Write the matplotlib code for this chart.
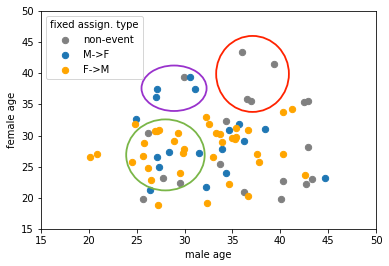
import numpy as np
import matplotlib
matplotlib.use('Agg')
import matplotlib.pyplot as plt
from matplotlib.patches import Ellipse

# male age, female age per couple
nonevent_x = [29.9, 35.97, 39.3, 36.5, 36.9, 42.47, 42.9, 34.3, 33.67, 36.2,
              40.06, 40.27, 42.9, 43.3, 42.7, 26.13, 27.7, 29.48, 25.7]
nonevent_y = [39.4, 43.4, 41.45, 35.8, 35.6, 35.35, 35.5, 32.3, 25.44, 20.9,
              19.8, 22.66, 28.1, 23.0, 22.3, 30.47, 23.15, 22.44, 19.8]

mf_x = [27.07, 26.97, 30.53, 31.05, 24.95, 27.07, 27.28, 28.33, 31.5, 26.34,
        34.6, 35.66, 36.2, 38.4, 33.9, 34.3, 32.2, 44.67]
mf_y = [37.43, 36.15, 39.36, 37.43, 32.66, 26.5, 24.96, 27.32, 27.15, 21.3,
        30.85, 31.8, 29.1, 31.0, 27.8, 23.95, 21.7, 23.15]

fm_x = [20.16, 20.8, 24.46, 25.7, 25.8, 26.13, 26.45, 27.18, 26.9, 27.07,
        27.3, 24.77, 29.35, 28.93, 29.97, 29.87, 29.48, 32.2, 32.5, 33.3,
        33.67, 33.88, 32.94, 35.35, 35.0, 35.4, 35.3, 36.6, 37.55, 37.75,
        40.27, 34.6, 36.6, 32.3, 40.27, 41.2, 42.54]
fm_y = [26.5, 26.98, 25.7, 26.7, 28.76, 24.75, 22.8, 18.86, 30.7, 30.78,
        30.9, 31.8, 30.37, 29.1, 27.85, 27.15, 23.95, 33.0, 31.8, 30.4,
        30.26, 28.97, 26.6, 31.2, 29.6, 29.8, 29.5, 30.9, 27.0, 25.7,
        27.0, 22.2, 20.3, 19.1, 33.8, 34.27, 23.68]

# highlighted groups: center, width, height
circles = [((28.9, 37.6), 6.8, 7.3, 'darkorchid'),
           ((37.1, 39.9), 7.6, 12.2, '#ff2200'),
           ((28.0, 26.9), 8.2, 11.4, '#7ab648')]

fig = plt.figure(figsize=(389/72, 266/72), dpi=72)
ax = fig.add_axes([0.1054, 0.139, 0.8612, 0.8196])

ax.scatter(nonevent_x, nonevent_y, s=40, color='grey', label='non-event', zorder=2)
ax.scatter(mf_x, mf_y, s=40, color='#1f77b4', label='M->F', zorder=2)
ax.scatter(fm_x, fm_y, s=40, color='orange', label='F->M', zorder=2)

for center, w, h, c in circles:
    ax.add_patch(Ellipse(center, w, h, fill=False, edgecolor=c, linewidth=1.8, zorder=3))

ax.set_xlim(15, 50)
ax.set_ylim(15, 50)
ax.set_xlabel('male age')
ax.set_ylabel('female age')
ax.legend(title='fixed assign. type', loc='upper left')

fig.savefig('out.png', dpi=72)
